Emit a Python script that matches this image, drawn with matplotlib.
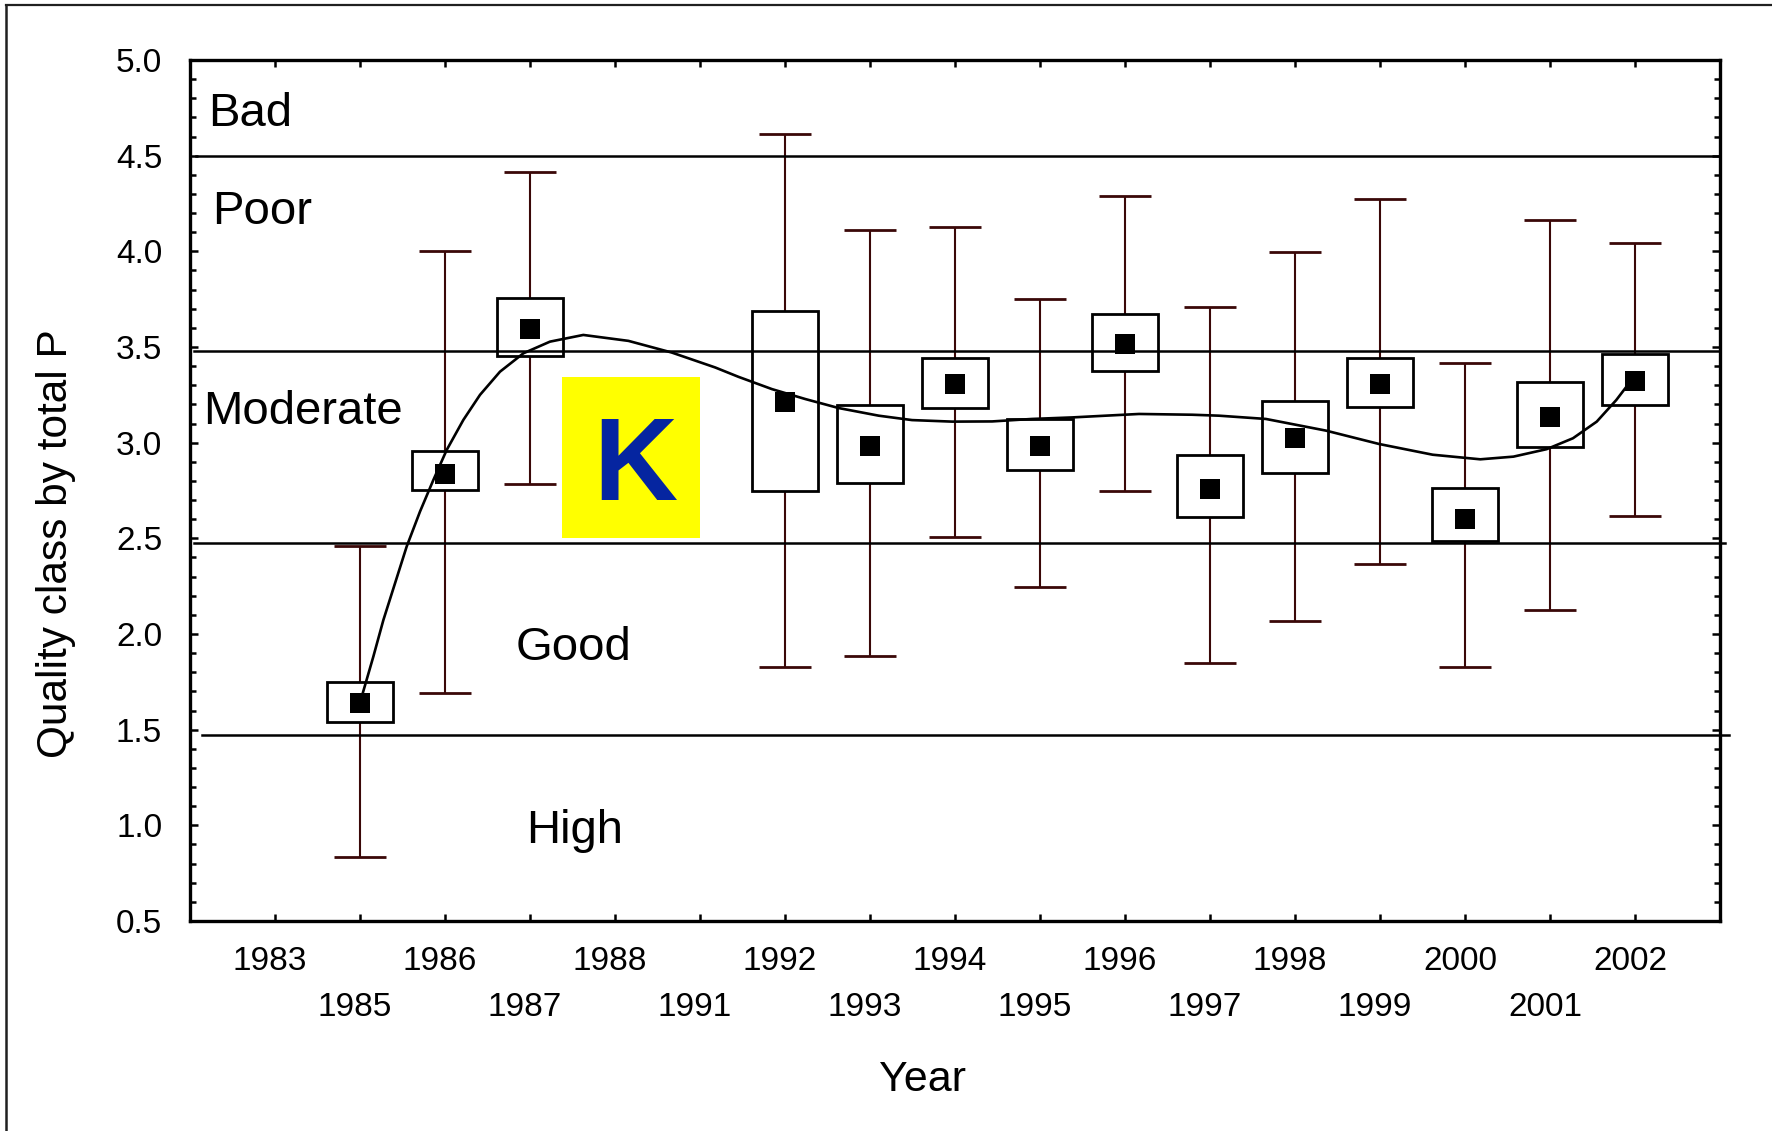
import numpy as np
import matplotlib
matplotlib.use("Agg")
import matplotlib.pyplot as plt
from matplotlib.lines import Line2D
from matplotlib.patches import Rectangle
from matplotlib.ticker import MultipleLocator, FormatStrFormatter
from matplotlib.transforms import ScaledTranslation

plt.rcParams['font.family'] = ['Liberation Sans', 'DejaVu Sans']

# Years on the category axis (1983, 1988 and 1991 have no samples)
years = ['1983', '1985', '1986', '1987', '1988', '1991', '1992', '1993',
         '1994', '1995', '1996', '1997', '1998', '1999', '2000', '2001', '2002']

nan = np.nan
# mean, mean +/- SE (box) and mean +/- SD (whiskers)
mean = [nan, 1.641, 2.835, 3.593, nan, nan, 3.210, 2.983, 3.306, 2.985,
        3.515, 2.756, 3.022, 3.306, 2.602, 3.132, 3.324]
box_hi = [nan, 1.747, 2.958, 3.754, nan, nan, 3.689, 3.195, 3.445, 3.124,
          3.672, 2.934, 3.219, 3.445, 2.761, 3.315, 3.463]
box_lo = [nan, 1.538, 2.751, 3.453, nan, nan, 2.749, 2.788, 3.181, 2.857,
          3.372, 2.614, 2.842, 3.184, 2.488, 2.975, 3.198]
whisk_hi = [nan, 2.462, 4.002, 4.413, nan, nan, 4.614, 4.110, 4.125, 3.750,
            4.290, 3.707, 3.995, 4.275, 3.414, 4.164, 4.045]
whisk_lo = [nan, 0.832, 1.690, 2.783, nan, nan, 1.828, 1.883, 2.505, 2.247,
            2.746, 1.847, 2.070, 2.366, 1.830, 2.126, 2.615]

# smoothed trend through the yearly means (position on the year axis, value)
trend_pos = [2.0, 2.157, 2.275, 2.412, 2.549, 2.706, 2.863, 3.02, 3.216, 3.412,
             3.647, 3.922, 4.235, 4.627, 5.158, 5.668, 6.179, 6.453, 6.846, 7.239,
             7.631, 8.103, 8.495, 8.966, 9.437, 9.908, 10.38, 10.77, 11.165, 11.79,
             12.107, 12.657, 13.364, 13.99, 14.62, 15.18, 15.57, 15.96, 16.27, 16.55,
             16.78, 16.90, 17.0]
trend_val = [1.641, 1.882, 2.073, 2.265, 2.457, 2.640, 2.805, 2.962, 3.119, 3.250,
             3.371, 3.467, 3.528, 3.563, 3.532, 3.471, 3.393, 3.344, 3.280, 3.228,
             3.181, 3.141, 3.118, 3.110, 3.111, 3.124, 3.132, 3.141, 3.150, 3.146,
             3.141, 3.124, 3.063, 2.993, 2.937, 2.913, 2.927, 2.966, 3.023, 3.110,
             3.223, 3.293, 3.324]

# quality class boundaries and names
class_bounds = [4.5, 3.48, 2.475, 1.47]
class_names = ['Bad', 'Poor', 'Moderate', 'Good', 'High']

fig = plt.figure(figsize=(17.72, 11.31), dpi=100)
ax = fig.add_axes([190 / 1772, 1 - 921 / 1131, 1530 / 1772, 861 / 1131])

pos = np.arange(1, len(years) + 1)
mean = np.array(mean)
box_hi = np.array(box_hi)
box_lo = np.array(box_lo)
whisk_hi = np.array(whisk_hi)
whisk_lo = np.array(whisk_lo)
ok = ~np.isnan(mean)

whisk_col = '#3a0808'
ax.vlines(pos[ok], whisk_lo[ok], whisk_hi[ok], color=whisk_col, lw=1.5, zorder=2)
ax.hlines(whisk_hi[ok], pos[ok] - 0.31, pos[ok] + 0.31, color=whisk_col, lw=2.0, zorder=2)
ax.hlines(whisk_lo[ok], pos[ok] - 0.31, pos[ok] + 0.31, color=whisk_col, lw=2.0, zorder=2)
ax.bar(pos[ok], box_hi[ok] - box_lo[ok], bottom=box_lo[ok], width=0.785,
       facecolor='white', edgecolor='black', lw=2.0, zorder=3)

# class boundaries
ext = [(0.07, 18.0), (0.05, 18.0), (0.05, 18.06), (0.14, 18.1)]
for b, (x0, x1) in zip(class_bounds, ext):
    ax.plot([x0, x1], [b, b], color='black', lw=1.8, zorder=4, clip_on=False)

ax.plot(trend_pos, trend_val, color='black', lw=1.9, zorder=5,
        solid_joinstyle='round')
ax.plot(pos[ok], mean[ok], 's', color='black', ms=14, mew=0, zorder=6)

# class names
ax.text(0.21, 4.655, class_names[0], fontsize=34, va='baseline', ha='left')
ax.text(0.26, 4.143, class_names[1], fontsize=34, va='baseline', ha='left')
ax.text(0.15, 3.099, class_names[2], fontsize=34, va='baseline', ha='left')
ax.text(3.83, 1.862, class_names[3], fontsize=34, va='baseline', ha='left')
ax.text(3.96, 0.907, class_names[4], fontsize=34, va='baseline', ha='left')

# site marker
ax.add_patch(Rectangle((4.38, 2.504), 1.62, 0.84, facecolor='#ffff00',
                       edgecolor='none', zorder=1))
ax.text(5.24, 2.70, 'K', fontsize=84, fontweight='bold', color='#0525a0',
        ha='center', va='baseline', zorder=1.5)

ax.set_xlim(0, 18)
ax.set_ylim(0.5, 5.0)

ax.set_xticks(pos[0::2], years[0::2])
ax.set_xticks(pos[1::2], years[1::2], minor=True)
ax.tick_params(axis='x', which='both', direction='in', top=True, length=5,
               width=1.8, labelsize=24)
ax.tick_params(axis='x', which='major', pad=18)
ax.tick_params(axis='x', which='minor', pad=51)
shift = ScaledTranslation(-5 / 100, 0, fig.dpi_scale_trans)
for lab in ax.get_xticklabels(which='both'):
    lab.set_transform(lab.get_transform() + shift)

ax.set_yticks(np.arange(0.5, 5.01, 0.5))
ax.yaxis.set_minor_locator(MultipleLocator(0.1))
ax.yaxis.set_major_formatter(FormatStrFormatter('%.1f'))
ax.tick_params(axis='y', which='both', direction='in', right=True,
               labelsize=24, pad=20, width=1.8)
ax.tick_params(axis='y', which='major', length=6)
ax.tick_params(axis='y', which='minor', length=4.5)

for s in ax.spines.values():
    s.set_linewidth(2.4)

fig.text(923 / 1772, 1 - 1080 / 1131, 'Year', fontsize=31, ha='center', va='center')
fig.text(56.5 / 1772, 1 - 544 / 1131, 'Quality class by total P', fontsize=30.5,
         rotation=90, ha='center', va='center')

# outer frame
fig.add_artist(Line2D([0.0033, 1.0], [0.9952, 0.9952], transform=fig.transFigure,
                      color='#202020', lw=1.6))
fig.add_artist(Line2D([0.0033, 0.0033], [0.0, 0.9952], transform=fig.transFigure,
                      color='#202020', lw=1.8))

fig.savefig('out.png', dpi=100)
